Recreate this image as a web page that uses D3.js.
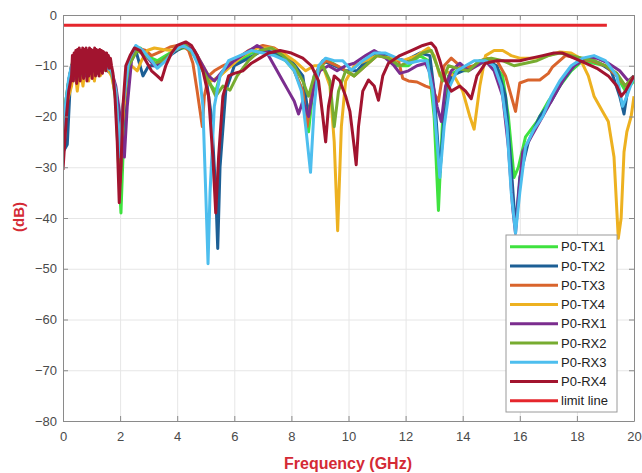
<!DOCTYPE html>
<html>
<head>
<meta charset="utf-8">
<script src="https://cdn.jsdelivr.net/npm/d3@7"></script>
<style>
  body { margin: 0; background: #fff; }
  text { font-family: "Liberation Sans", Arial, sans-serif; }
</style>
</head>
<body>
<div id="chart"></div>
<script>
// Axis ticks
const freqTicks = [0, 2, 4, 6, 8, 10, 12, 14, 16, 18, 20];
const dbTicks = [0, -10, -20, -30, -40, -50, -60, -70, -80];

// Series names and colours (legend order = draw order)
const seriesNames = ['P0-TX1', 'P0-TX2', 'P0-TX3', 'P0-TX4', 'P0-RX1', 'P0-RX2', 'P0-RX3', 'P0-RX4', 'limit line'];
const seriesColors = ['#3fe23f', '#1c5f95', '#d9642c', '#edb120', '#7b2d8e', '#77ac30', '#4dbeee', '#a2142f', '#e5262c'];

// Each series: [frequency GHz, dB]
const tx1 = [[0,-24],[0.1,-17],[0.2,-13],[0.3,-10],[0.4,-8],[0.5,-12],[0.6,-8],[0.7,-11],[0.8,-7.5],[0.9,-11],[1.0,-8],[1.1,-12],[1.2,-8],[1.3,-11],[1.4,-8.5],[1.55,-10.5],[1.7,-11],[1.85,-17],[1.95,-30],[2.03,-39],[2.1,-28],[2.2,-16],[2.35,-9],[2.5,-7],[2.7,-6.5],[2.9,-7.5],[3.1,-8.5],[3.3,-9],[3.6,-8],[3.9,-7],[4.2,-6.5],[4.4,-6.5],[4.6,-8],[4.8,-10],[5.0,-12],[5.2,-14],[5.35,-15],[5.5,-12],[5.8,-10],[6.2,-9],[6.6,-7.5],[7.0,-7],[7.4,-7.5],[7.8,-9],[8.1,-11],[8.4,-15],[8.6,-23],[8.75,-15],[9.0,-10],[9.3,-9],[9.6,-10],[9.9,-11],[10.2,-12],[10.5,-10],[10.9,-8],[11.3,-8],[11.7,-10],[12.1,-10],[12.5,-8],[12.8,-9],[13.0,-20],[13.15,-38.5],[13.3,-20],[13.5,-12],[13.8,-11],[14.2,-11],[14.6,-9],[15.0,-9],[15.4,-12],[15.6,-20],[15.8,-32],[15.95,-30],[16.2,-24],[16.6,-21],[17.0,-17],[17.4,-14],[17.8,-11],[18.2,-9],[18.6,-9.5],[19.0,-10],[19.4,-12],[19.7,-15],[20,-13]];

const tx2 = [[0,-27],[0.15,-25.5],[0.25,-14],[0.35,-10],[0.45,-13],[0.55,-9],[0.65,-12],[0.75,-8.5],[0.85,-12],[0.95,-8.5],[1.05,-12],[1.15,-8.5],[1.25,-11.5],[1.4,-9],[1.55,-11],[1.7,-11.5],[1.85,-15],[2.0,-32],[2.1,-22],[2.3,-10],[2.55,-7],[2.8,-12],[3.0,-10],[3.3,-10],[3.6,-8.5],[4.0,-7],[4.3,-6],[4.7,-8],[5.0,-12],[5.2,-20],[5.35,-35],[5.42,-46],[5.5,-30],[5.7,-15],[6.0,-10],[6.5,-8.5],[7.0,-7],[7.5,-7.5],[8.0,-9],[8.4,-12],[8.6,-20],[8.8,-12],[9.1,-9],[9.5,-10],[9.9,-11],[10.3,-11],[10.7,-8.5],[11.1,-7.5],[11.6,-8.5],[12.0,-9],[12.5,-7.5],[12.85,-8],[13.0,-15],[13.2,-31],[13.35,-20],[13.6,-12],[14.0,-11],[14.4,-10],[14.8,-9],[15.2,-10],[15.5,-16],[15.7,-30],[15.85,-42],[16.0,-32],[16.3,-25],[16.7,-20],[17.1,-17],[17.5,-13],[17.9,-10],[18.3,-8.5],[18.8,-9.5],[19.2,-11],[19.5,-16],[19.65,-19.5],[19.8,-14],[20,-12]];

const tx3 = [[0,-24],[0.1,-18],[0.2,-13],[0.3,-10],[0.4,-12],[0.5,-8.5],[0.6,-12],[0.7,-8],[0.8,-11.5],[0.9,-8],[1.0,-12],[1.1,-8],[1.2,-11],[1.35,-8.5],[1.5,-10],[1.7,-11],[1.85,-15],[2.0,-33],[2.1,-20],[2.3,-10],[2.6,-6.5],[2.9,-7],[3.1,-8],[3.5,-7],[3.75,-6.3],[4.0,-6],[4.2,-6],[4.4,-7],[4.55,-9.5],[4.7,-15],[4.88,-22],[4.95,-16],[5.1,-12],[5.3,-11],[5.6,-10],[6.0,-9],[6.5,-7],[7.0,-6],[7.4,-6.5],[7.8,-8],[8.1,-11],[8.4,-15],[8.55,-22],[8.7,-16],[8.9,-11],[9.2,-9],[9.6,-10],[9.9,-11],[10.2,-12],[10.6,-10],[11.0,-8],[11.4,-8.5],[11.75,-9],[11.9,-12.5],[12.1,-13],[12.4,-13.2],[12.7,-14],[12.9,-14.4],[13.15,-17],[13.35,-10],[13.6,-8.5],[14.0,-10.5],[14.4,-10],[14.8,-8.5],[15.2,-9],[15.5,-12],[15.7,-16],[15.85,-19],[16.0,-13.4],[16.3,-12.8],[16.7,-12.8],[17.0,-11.5],[17.15,-10.2],[17.6,-8],[18.0,-8.5],[18.5,-9],[19.0,-10],[19.4,-12],[19.7,-14],[20,-12]];

const tx4 = [[0,-22],[0.1,-18],[0.3,-14],[0.4,-10],[0.5,-15],[0.6,-10],[0.7,-14],[0.8,-9],[0.9,-13],[1.0,-9],[1.1,-13],[1.2,-9],[1.3,-12],[1.5,-10],[1.7,-12],[1.85,-16],[2.0,-30],[2.1,-20],[2.25,-11],[2.4,-10],[2.6,-11],[2.75,-9],[2.95,-7],[3.2,-6.5],[3.5,-6.8],[3.8,-7],[4.3,-6],[4.6,-7],[4.9,-10],[5.2,-13],[5.5,-12],[5.9,-10],[6.3,-8],[6.8,-6.5],[7.3,-6.5],[7.7,-7.5],[8.1,-9],[8.5,-11],[8.8,-10],[9.1,-10],[9.35,-14],[9.5,-25],[9.62,-42.5],[9.75,-22],[9.9,-13],[10.2,-10],[10.6,-9],[11.0,-8],[11.5,-8.5],[11.9,-9],[12.4,-8],[12.8,-6.5],[13.0,-8],[13.2,-12],[13.4,-11],[13.7,-12],[14.0,-15],[14.25,-20],[14.4,-22.5],[14.6,-14],[14.8,-8],[15.1,-7],[15.4,-7],[15.7,-8],[16.0,-8.5],[16.5,-8.5],[17.0,-8],[17.4,-7.3],[17.8,-7.5],[18.1,-8.5],[18.4,-12],[18.6,-16],[18.9,-19],[19.1,-21],[19.3,-28],[19.45,-44],[19.55,-40],[19.65,-27],[19.75,-23],[19.9,-20],[20,-16]];

const rx1 = [[0,-25],[0.1,-18],[0.2,-13],[0.3,-10],[0.4,-12.5],[0.5,-8.5],[0.6,-12],[0.7,-8],[0.8,-12],[0.9,-8.5],[1.0,-11.5],[1.1,-8],[1.25,-11],[1.4,-8.5],[1.55,-10],[1.7,-11],[1.85,-14],[2.0,-20],[2.15,-28],[2.25,-18],[2.4,-9],[2.6,-6.5],[2.9,-8],[3.2,-10],[3.5,-9],[3.9,-7],[4.3,-6],[4.6,-7],[4.9,-10],[5.1,-12],[5.3,-13],[5.6,-11],[6.0,-9],[6.4,-7.5],[6.8,-6],[7.1,-7],[7.4,-10],[7.7,-13],[7.9,-15],[8.1,-17],[8.25,-19.5],[8.4,-17],[8.6,-20],[8.8,-14],[9.0,-11],[9.3,-10],[9.6,-11],[9.9,-10],[10.2,-9.5],[10.6,-8],[10.9,-7],[11.2,-8],[11.6,-10],[11.8,-11.5],[12.1,-11],[12.4,-10],[12.7,-9.5],[12.9,-12],[13.1,-18],[13.25,-21],[13.4,-14],[13.6,-11],[13.9,-9.5],[14.2,-11],[14.5,-10],[14.8,-9],[15.1,-11],[15.4,-16],[15.6,-26],[15.75,-38],[15.85,-43],[15.95,-36],[16.1,-27],[16.4,-24],[16.7,-21],[17.0,-18],[17.3,-15],[17.6,-12],[17.9,-10],[18.3,-8.5],[18.7,-8.5],[19.1,-9.5],[19.5,-11],[19.8,-13],[20,-12]];

const rx2 = [[0,-24],[0.1,-17],[0.2,-13],[0.3,-10.5],[0.4,-8.5],[0.5,-12.5],[0.6,-8.5],[0.7,-12],[0.8,-8],[0.9,-12],[1.0,-8.5],[1.1,-11],[1.25,-8.5],[1.4,-11],[1.55,-9.5],[1.7,-11.5],[1.85,-15],[2.0,-30],[2.1,-18],[2.3,-10],[2.6,-7],[2.9,-8],[3.2,-9.5],[3.5,-9],[3.9,-7],[4.3,-6],[4.6,-8],[4.9,-11],[5.1,-13],[5.35,-16],[5.6,-14],[5.85,-14.8],[6.1,-12],[6.5,-9],[6.9,-7],[7.3,-6.5],[7.7,-8],[8.1,-10],[8.4,-13],[8.6,-16],[8.8,-12],[9.1,-10],[9.35,-13],[9.5,-22],[9.65,-15],[9.9,-11],[10.2,-12],[10.6,-10],[11.0,-8],[11.4,-8.5],[11.8,-10],[12.2,-9],[12.6,-7.5],[12.9,-7],[13.1,-10],[13.3,-13],[13.5,-10],[13.8,-10.5],[14.2,-11],[14.6,-9],[15.0,-8.5],[15.4,-9],[15.8,-10],[16.2,-9.5],[16.6,-9],[17.0,-8],[17.4,-7.5],[17.8,-8],[18.2,-8.5],[18.6,-9],[19.0,-10],[19.4,-11.5],[19.7,-14],[20,-12]];

const rx3 = [[0,-24],[0.1,-17],[0.2,-12.5],[0.3,-10],[0.4,-12],[0.5,-8],[0.6,-11.5],[0.7,-8],[0.8,-11],[0.9,-8],[1.0,-11.5],[1.1,-8.5],[1.25,-11],[1.4,-9],[1.55,-10.5],[1.7,-11],[1.85,-15],[2.0,-28],[2.1,-18],[2.3,-9],[2.55,-6],[2.8,-7],[3.1,-9],[3.3,-10.5],[3.6,-9],[3.9,-7],[4.2,-6],[4.5,-7],[4.75,-10],[4.9,-18],[5.0,-35],[5.08,-49],[5.15,-35],[5.3,-18],[5.5,-12],[5.8,-9],[6.2,-8],[6.6,-7],[7.0,-7.5],[7.4,-8],[7.8,-9],[8.1,-11],[8.35,-15],[8.5,-22],[8.67,-31],[8.8,-18],[8.95,-10],[9.2,-8.5],[9.5,-9],[9.8,-9],[10.1,-10.9],[10.5,-9],[10.9,-7.5],[11.3,-7.5],[11.7,-8.5],[12.1,-9.5],[12.5,-9],[12.75,-9],[12.95,-15],[13.1,-25],[13.2,-32],[13.35,-22],[13.55,-14],[13.8,-11],[14.1,-10],[14.4,-9],[14.8,-9],[15.1,-10],[15.35,-14],[15.55,-22],[15.7,-35],[15.85,-43],[16.0,-35],[16.2,-26],[16.5,-22.5],[16.8,-20],[17.1,-16],[17.4,-13],[17.8,-10],[18.2,-8.5],[18.6,-8],[19.0,-9],[19.4,-12],[19.6,-18],[19.75,-16],[20,-12]];

const rx4 = [[0,-30.5],[0.05,-26],[0.12,-20],[0.2,-15],[0.3,-12],[0.33,-8],[0.36,-13],[0.39,-7.5],[0.42,-12],[0.45,-7],[0.48,-13.5],[0.51,-6.8],[0.54,-12],[0.57,-6.5],[0.6,-13],[0.63,-7],[0.66,-11.5],[0.69,-6.5],[0.72,-12.5],[0.75,-6.8],[0.78,-11],[0.81,-6.5],[0.84,-13],[0.87,-7],[0.9,-12],[0.93,-6.5],[0.96,-11.5],[0.99,-6.8],[1.02,-12.5],[1.05,-7],[1.08,-11],[1.11,-6.5],[1.14,-12],[1.17,-6.8],[1.2,-11.5],[1.23,-7],[1.26,-12],[1.29,-6.8],[1.32,-11],[1.35,-7],[1.38,-11.5],[1.41,-7.2],[1.44,-10.5],[1.47,-7.5],[1.5,-11],[1.53,-7.5],[1.56,-10],[1.59,-8],[1.62,-10.5],[1.66,-8.5],[1.7,-10],[1.75,-11.5],[1.82,-16],[1.9,-25],[1.97,-37],[2.03,-30],[2.1,-18],[2.2,-10],[2.35,-8],[2.5,-6.5],[2.7,-7],[2.9,-9],[3.1,-11],[3.3,-12],[3.45,-12.8],[3.6,-10],[3.8,-7.5],[4.0,-6],[4.3,-5.3],[4.5,-6],[4.7,-8],[4.9,-11],[5.1,-16],[5.25,-28],[5.35,-39],[5.45,-28],[5.6,-16],[5.8,-12],[6.0,-11.5],[6.3,-11],[6.6,-9.5],[6.9,-8.5],[7.2,-7.5],[7.6,-7],[8.0,-7.5],[8.4,-8.5],[8.7,-10],[8.95,-13],[9.1,-20],[9.2,-25],[9.3,-18],[9.5,-12],[9.7,-13],[9.9,-16],[10.05,-19],[10.2,-26],[10.27,-29.5],[10.35,-22],[10.5,-15],[10.7,-12.8],[10.9,-14],[11.05,-16.8],[11.2,-12],[11.4,-9.5],[11.8,-8],[12.2,-7],[12.6,-6],[12.9,-5.5],[13.05,-6.5],[13.2,-9],[13.4,-13],[13.6,-15],[13.9,-14],[14.1,-15],[14.3,-16.5],[14.5,-12],[14.8,-9.5],[15.2,-9],[15.6,-9],[16.0,-9],[16.4,-8.5],[16.8,-8],[17.2,-7.5],[17.5,-7.5],[17.9,-8.5],[18.3,-9.5],[18.7,-10.5],[19.1,-12],[19.4,-14],[19.55,-16],[19.7,-15],[19.85,-13.5],[20,-12]];

const limitLine = [[0,-2],[19.05,-2]];

const seriesData = [tx1, tx2, tx3, tx4, rx1, rx2, rx3, rx4, limitLine];

// Layout
const width = 642;
const height = 473;
const plot = { left: 63, right: 634, top: 15, bottom: 421 };

const xScale = d3.scaleLinear().domain([0, 20]).range([plot.left, plot.right]);
const yScale = d3.scaleLinear().domain([-80, 0]).range([plot.bottom, plot.top]);

const svg = d3.select('#chart')
  .append('svg')
  .attr('width', width)
  .attr('height', height);

// Gridlines
svg.append('g')
  .attr('transform', `translate(0, ${plot.bottom})`)
  .call(d3.axisBottom(xScale).tickValues(freqTicks).tickFormat('').tickSize(-(plot.bottom - plot.top)))
  .call(g => g.select('.domain').remove())
  .selectAll('line').attr('stroke', '#e6e6e6');

svg.append('g')
  .attr('transform', `translate(${plot.left}, 0)`)
  .call(d3.axisLeft(yScale).tickValues(dbTicks).tickFormat('').tickSize(-(plot.right - plot.left)))
  .call(g => g.select('.domain').remove())
  .selectAll('line').attr('stroke', '#e6e6e6');

// Clip the curves to the axes box
svg.append('clipPath').attr('id', 'clip')
  .append('rect')
  .attr('x', plot.left).attr('y', plot.top)
  .attr('width', plot.right - plot.left).attr('height', plot.bottom - plot.top);

const line = d3.line().x(d => xScale(d[0])).y(d => yScale(d[1]));

svg.append('g')
  .attr('clip-path', 'url(#clip)')
  .selectAll('path')
  .data(seriesData)
  .join('path')
  .attr('fill', 'none')
  .attr('stroke', (d, i) => seriesColors[i])
  .attr('stroke-width', 3)
  .attr('stroke-linejoin', 'round')
  .attr('d', line);

// Axes (ticks point inward, box on all sides)
const axisColor = '#8a8a8a';
const styleAxis = g => {
  g.select('.domain').attr('stroke', axisColor);
  g.selectAll('.tick line').attr('stroke', axisColor);
  g.selectAll('.tick text').attr('fill', '#4a4a4a').style('font-size', '13px');
};

svg.append('g')
  .attr('transform', `translate(0, ${plot.bottom})`)
  .call(d3.axisBottom(xScale).tickValues(freqTicks).tickSizeInner(-5).tickSizeOuter(0).tickPadding(11))
  .call(styleAxis);

svg.append('g')
  .attr('transform', `translate(0, ${plot.top})`)
  .call(d3.axisTop(xScale).tickValues(freqTicks).tickSizeInner(-5).tickSizeOuter(0).tickFormat(''))
  .call(styleAxis);

svg.append('g')
  .attr('transform', `translate(${plot.left}, 0)`)
  .call(d3.axisLeft(yScale).tickValues(dbTicks).tickSizeInner(-5).tickSizeOuter(0).tickPadding(6))
  .call(styleAxis);

svg.append('g')
  .attr('transform', `translate(${plot.right}, 0)`)
  .call(d3.axisRight(yScale).tickValues(dbTicks).tickSizeInner(-5).tickSizeOuter(0).tickFormat(''))
  .call(styleAxis);

// Axis titles
svg.append('text')
  .attr('x', 348).attr('y', 469)
  .attr('text-anchor', 'middle')
  .attr('fill', '#d42a35')
  .style('font-size', '16px').style('font-weight', 'bold')
  .text('Frequency (GHz)');

svg.append('text')
  .attr('transform', 'translate(24, 217) rotate(-90)')
  .attr('text-anchor', 'middle')
  .attr('fill', '#d42a35')
  .style('font-size', '15px').style('font-weight', 'bold')
  .text('(dB)');

// Legend
const legend = svg.append('g');
legend.append('rect')
  .attr('x', 506).attr('y', 235)
  .attr('width', 111).attr('height', 177)
  .attr('fill', '#fff').attr('stroke', '#9a9a9a');

const rowY = i => 246.7 + i * 19.25;
const rows = legend.selectAll('g.row')
  .data(seriesNames)
  .join('g')
  .attr('class', 'row');

rows.append('line')
  .attr('x1', 510).attr('x2', 558)
  .attr('y1', (d, i) => rowY(i)).attr('y2', (d, i) => rowY(i))
  .attr('stroke', (d, i) => seriesColors[i])
  .attr('stroke-width', 3);

rows.append('text')
  .attr('x', 561).attr('y', (d, i) => rowY(i) + 4.6)
  .attr('fill', '#222')
  .style('font-size', '13px')
  .text(d => d);
</script>
</body>
</html>
